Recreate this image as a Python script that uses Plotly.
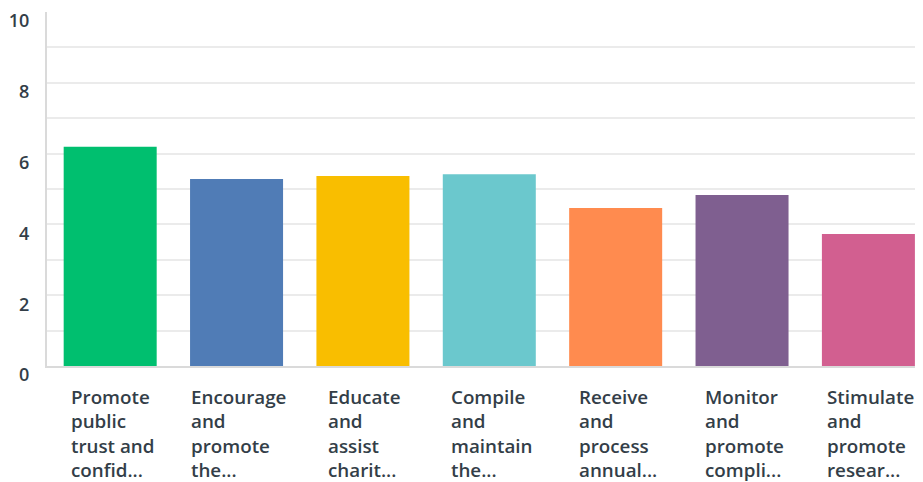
import plotly.graph_objects as go

categories = [
    "Promote<br>public<br>trust and<br>confid...",
    "Encourage<br>and<br>promote<br>the...",
    "Educate<br>and<br>assist<br>charit...",
    "Compile<br>and<br>maintain<br>the...",
    "Receive<br>and<br>process<br>annual...",
    "Monitor<br>and<br>promote<br>compli...",
    "Stimulate<br>and<br>promote<br>resear...",
]
values = [6.19, 5.28, 5.37, 5.42, 4.46, 4.83, 3.73]
colors = ["#00BF6F", "#507CB6", "#F9BE00", "#6BC8CD", "#FF8B4F", "#7F5F90", "#D25F90"]
y_ticks = [0, 2, 4, 6, 8, 10]

FONT = "Open Sans"
TXT = "#333E48"

x_idx = list(range(len(categories)))

fig = go.Figure(go.Bar(
    x=x_idx, y=values, marker=dict(color=colors, line=dict(width=0)),
    hoverinfo="skip",
))

for i, lab in enumerate(categories):
    fig.add_annotation(
        x=i, y=0, xref="x", yref="paper", text=lab, showarrow=False,
        xanchor="center", yanchor="top", align="left", yshift=-16, xshift=2,
        font=dict(family=FONT, size=18.8, color=TXT, weight=600),
    )

# page body has an 8px default margin, so the figure is sized to the visible area
fig.update_layout(
    width=915, height=474,
    margin=dict(l=39, r=0, t=4, b=116),
    paper_bgcolor="white", plot_bgcolor="white",
    bargap=0.264, showlegend=False,
    xaxis=dict(range=[-0.5, 6.432], showticklabels=False, showgrid=False,
               zeroline=False, showline=True, linecolor="#DADADA", linewidth=2,
               fixedrange=True, automargin=False),
    yaxis=dict(range=[0, 10], tickvals=y_ticks, ticktext=[str(v) for v in y_ticks],
               showgrid=True, gridcolor="#EBEBEB", gridwidth=2,
               minor=dict(dtick=1, showgrid=True, gridcolor="#EBEBEB", gridwidth=2),
               zeroline=False, showline=True, linecolor="#DADADA", linewidth=2,
               ticks="", ticklabelstandoff=12, ticklabelshift=9, automargin=False,
               tickfont=dict(family=FONT, size=18, color=TXT, weight=600)),
)

fig.write_html("out.html")
